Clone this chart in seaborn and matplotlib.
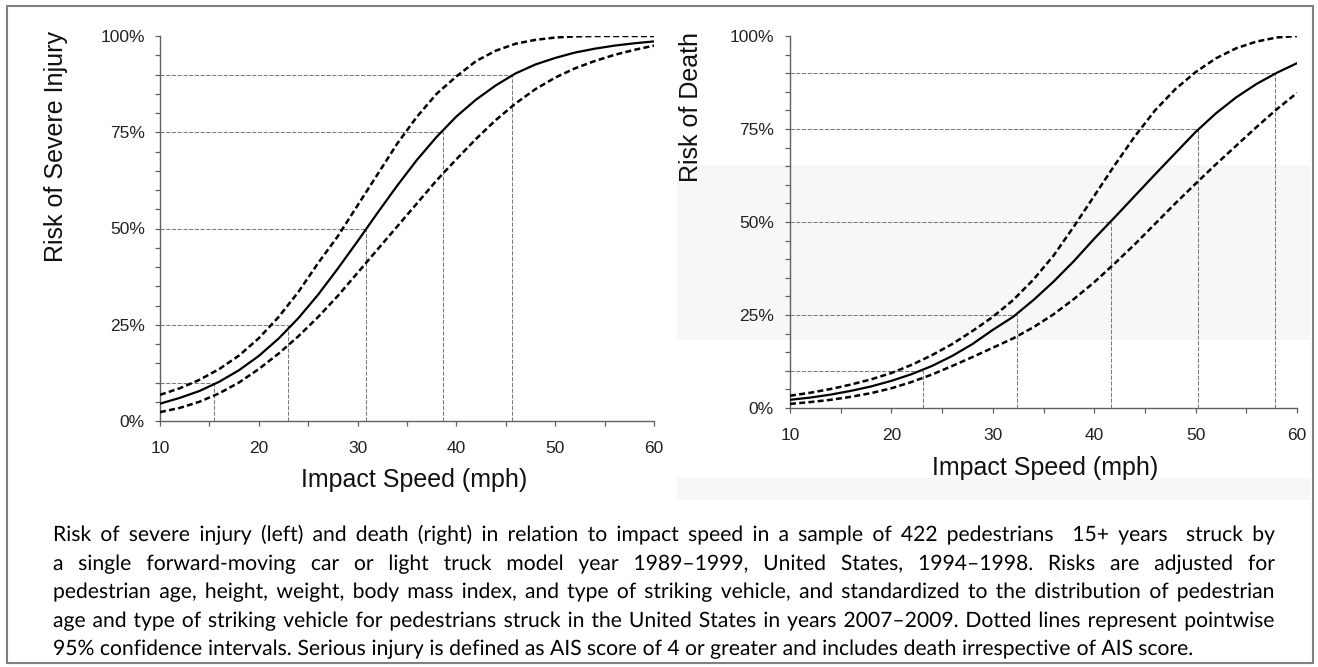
import matplotlib
matplotlib.use("Agg")
import matplotlib.pyplot as plt
import matplotlib.patches as mpatches
from matplotlib.font_manager import FontProperties
from matplotlib.textpath import TextPath
from matplotlib.transforms import IdentityTransform
from matplotlib.ticker import PercentFormatter, MultipleLocator
import seaborn as sns

# impact speed grid (mph) and curve values
speeds = list(range(10, 62, 2))

injury_mid = [0.045, 0.060, 0.078, 0.102, 0.132, 0.169, 0.214, 0.267, 0.328, 0.396,
              0.467, 0.540, 0.611, 0.678, 0.738, 0.791, 0.835, 0.872, 0.903, 0.926,
              0.943, 0.957, 0.967, 0.975, 0.981, 0.986]
injury_hi = [0.068, 0.085, 0.107, 0.135, 0.170, 0.215, 0.270, 0.335, 0.410, 0.480,
             0.560, 0.640, 0.720, 0.790, 0.850, 0.895, 0.935, 0.962, 0.980, 0.990,
             0.996, 0.999, 1.000, 1.000, 1.000, 1.000]
injury_lo = [0.023, 0.034, 0.050, 0.072, 0.100, 0.135, 0.175, 0.220, 0.270, 0.325,
             0.385, 0.445, 0.505, 0.565, 0.625, 0.680, 0.733, 0.782, 0.825, 0.862,
             0.892, 0.916, 0.935, 0.951, 0.964, 0.975]

death_mid = [0.022, 0.028, 0.036, 0.046, 0.058, 0.073, 0.091, 0.113, 0.140, 0.172,
             0.210, 0.245, 0.290, 0.340, 0.395, 0.455, 0.512, 0.570, 0.628, 0.685,
             0.742, 0.792, 0.835, 0.871, 0.901, 0.927]
death_hi = [0.033, 0.041, 0.051, 0.063, 0.077, 0.094, 0.116, 0.142, 0.172, 0.207,
            0.245, 0.290, 0.345, 0.410, 0.488, 0.570, 0.652, 0.730, 0.800, 0.857,
            0.903, 0.940, 0.967, 0.985, 0.996, 1.000]
death_lo = [0.011, 0.016, 0.022, 0.030, 0.040, 0.053, 0.070, 0.090, 0.113, 0.137,
            0.162, 0.187, 0.217, 0.252, 0.293, 0.338, 0.388, 0.440, 0.495, 0.550,
            0.603, 0.655, 0.705, 0.755, 0.803, 0.847]

# risk levels with the speeds at which the central curve reaches them
levels = [0.10, 0.25, 0.50, 0.75, 0.90]
injury_speeds = [15.5, 23.0, 30.9, 38.6, 45.6]
death_speeds = [23.1, 32.4, 41.7, 50.2, 57.8]

caption_lines = [
    "Risk of severe injury (left) and death (right) in relation to impact speed in a sample of 422 pedestrians  15+ years  struck by",
    "a single forward-moving car or light truck model year 1989\u20131999, United States, 1994\u20131998. Risks are adjusted for",
    "pedestrian age, height, weight, body mass index, and type of striking vehicle, and standardized to the distribution of pedestrian",
    "age and type of striking vehicle for pedestrians struck in the United States in years 2007\u20132009. Dotted lines represent pointwise",
    "95% confidence intervals. Serious injury is defined as AIS score of 4 or greater and includes death irrespective of AIS score.",
]

sns.set_style("ticks")
plt.rcParams["font.family"] = ["Liberation Sans", "DejaVu Sans"]

W, H = 1318, 667
fig = plt.figure(figsize=(W / 100, H / 100), dpi=100)

# faint scan bands behind the right panel
for top, bottom in [(165, 340), (478, 500)]:
    fig.patches.append(mpatches.Rectangle(
        (677 / W, 1 - bottom / H), (1310 - 677) / W, (bottom - top) / H,
        transform=fig.transFigure, facecolor="#f7f7f7", edgecolor="none", zorder=-5))

ax_inj = fig.add_axes([160 / W, 1 - 421 / H, 494 / W, 385 / H])
ax_dth = fig.add_axes([790 / W, 1 - 408 / H, 507 / W, 372 / H])

dash = (0, (2.4, 1.3))
ref = dict(color="#7a7a7a", linewidth=0.75, linestyle=(0, (4, 1.5)), zorder=1)

panels = [
    (ax_inj, injury_mid, injury_hi, injury_lo, injury_speeds, "Risk of Severe Injury",
     (-0.2105, 0.714), (0.514, -0.153), 7.2, 11.0),
    (ax_dth, death_mid, death_hi, death_lo, death_speeds, "Risk of Death",
     (-0.195, 0.808), (0.503, -0.161), 8.0, 10.5),
]

for ax, mid, hi, lo, xs, ylab, ypos, xpos, ypad, xpad in panels:
    ax.patch.set_alpha(0)
    ax.hlines(levels, 10, xs, **ref)
    ax.vlines(xs, 0, levels, **ref)
    sns.lineplot(x=speeds, y=hi, ax=ax, color="black", linewidth=1.8, linestyle=dash, zorder=3)
    sns.lineplot(x=speeds, y=lo, ax=ax, color="black", linewidth=1.8, linestyle=dash, zorder=3)
    sns.lineplot(x=speeds, y=mid, ax=ax, color="black", linewidth=1.6, zorder=4)

    ax.set_xlim(10, 60)
    ax.set_ylim(0, 1)
    ax.xaxis.set_major_locator(MultipleLocator(10))
    ax.xaxis.set_minor_locator(MultipleLocator(5))
    ax.yaxis.set_major_locator(MultipleLocator(0.25))
    ax.yaxis.set_minor_locator(MultipleLocator(0.05))
    ax.yaxis.set_major_formatter(PercentFormatter(1.0, decimals=0))

    for side in ["top", "right"]:
        ax.spines[side].set_visible(False)
    for side in ["left", "bottom"]:
        ax.spines[side].set_color("#606060")
        ax.spines[side].set_linewidth(1.0)
    ax.tick_params(which="both", direction="out", length=3.6, width=0.9,
                   color="#606060", labelsize=12.5, labelcolor="#222222")
    ax.tick_params(axis="y", pad=ypad)
    ax.tick_params(axis="x", pad=xpad)

    ax.set_ylabel(ylab, fontsize=18, color="#111111")
    ax.yaxis.set_label_coords(*ypos)
    ax.yaxis.label.set_va("center")
    ax.set_xlabel("Impact Speed (mph)", fontsize=18, color="#111111")
    ax.xaxis.set_label_coords(*xpos)
    ax.xaxis.label.set_va("center")
    ax.grid(False)

# caption, justified like the source except for the last line.
# words are drawn as text paths so they share one exact baseline
renderer = fig.canvas.get_renderer()
cap_size = 15.2
cap_px = cap_size * fig.dpi / 72
cap_prop = FontProperties(family=["Lato", "DejaVu Sans"], size=cap_size)
path_prop = FontProperties(family=["Lato", "DejaVu Sans"])
left_px, right_px = 53, 1275
baselines = [541, 570, 598, 627, 655]


def word_width(word):
    if not word:
        return 0.0
    t = fig.text(0, 0, word, fontproperties=cap_prop)
    w = t.get_window_extent(renderer).width
    t.remove()
    return w


def draw_word(word, x, base):
    if not word:
        return
    tp = TextPath((x, H - base), word, size=cap_px, prop=path_prop)
    fig.patches.append(mpatches.PathPatch(tp, facecolor="black", edgecolor="none",
                                          transform=IdentityTransform(), zorder=4))


for i, (line, base) in enumerate(zip(caption_lines, baselines)):
    words = line.split(" ")
    widths = [word_width(w) for w in words]
    if i == len(caption_lines) - 1:
        gap = word_width("a b") - word_width("ab")
    else:
        gap = (right_px - left_px - sum(widths)) / (len(words) - 1)
    x = left_px
    for w, wd in zip(words, widths):
        draw_word(w, x, base)
        x += wd + gap

# outer frame
fig.patches.append(mpatches.Rectangle(
    (7 / W, 1 - 663 / H), (1313 - 7) / W, (663 - 6) / H,
    transform=fig.transFigure, facecolor="none", edgecolor="#808080", linewidth=1.5, zorder=5))

fig.savefig("out.png", dpi=100)
